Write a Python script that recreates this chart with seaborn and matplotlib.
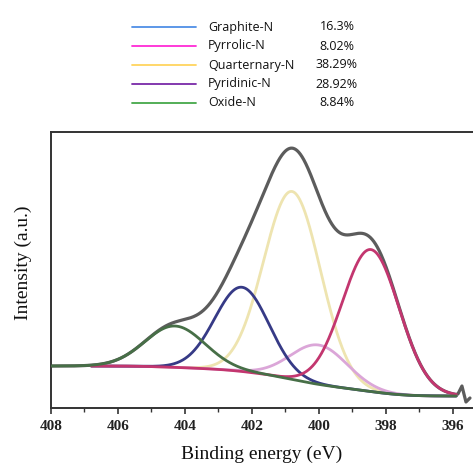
import numpy as np
import pandas as pd
import matplotlib
matplotlib.use("Agg")
import matplotlib.pyplot as plt
import seaborn as sns
from matplotlib.lines import Line2D

# N 1s deconvolution: fitted species, their area shares and peak shapes
species = ["Graphite-N", "Pyrrolic-N", "Quarternary-N", "Pyridinic-N", "Oxide-N"]
share_pct = [16.3, 8.02, 38.29, 28.92, 8.84]
share_labels = ["16.3%", "8.02%", "38.29%", "28.92%", "8.84%"]
center_ev = [402.3, 400.0, 400.8, 398.45, 404.3]
fwhm_ev = [1.9, 2.0, 2.0, 2.0, 2.1]
legend_colors = ["#4f8fe6", "#ff2bd6", "#ffd45e", "#7a2aa8", "#45a84a"]
curve_colors = ["#363a86", "#dba6d8", "#eee4b0", "#c3366f", "#476f47"]

# Shirley background end levels and area-to-intensity factor (a.u.)
bg_high = 42.0
bg_low = 12.0
area_scale = 9.82

# noisy raw points at the low-energy end of the scan
tail_ev = [395.85, 395.73, 395.61, 395.49]
tail_counts = [14.0, 22.0, 6.0, 10.0]

tick_values = [408, 406, 404, 402, 400, 398, 396]
tick_labels = ["408", "406", "404", "402", "400", "398", "396"]

sns.set_theme(style="ticks")
plt.rcParams["font.family"] = ["Liberation Serif", "DejaVu Serif"]

fig = plt.figure(figsize=(4.73, 4.70), dpi=100)
ax = fig.add_axes([51 / 473, 62 / 470, 1 - 51 / 473, (408 - 132) / 470])

energy = np.linspace(408.0, 395.9, 1200)
sigmas = np.array(fwhm_ev) / (2 * np.sqrt(2 * np.log(2)))
amps = np.array(share_pct) * area_scale / np.array(fwhm_ev)
comps = [a * np.exp(-0.5 * ((energy - c) / s) ** 2)
         for a, c, s in zip(amps, center_ev, sigmas)]
total = np.sum(comps, axis=0)

# Shirley-type background: rises with the peak area at lower binding energy
cum = np.cumsum(total[::-1])[::-1]
cum = cum - cum[-1]
background = bg_low + (bg_high - bg_low) * cum / cum[0]
envelope = background + total

env_e = np.concatenate([energy, tail_ev])
env_y = np.concatenate([envelope, tail_counts])

df_env = pd.DataFrame({"energy": env_e, "intensity": env_y})
sns.lineplot(data=df_env, x="energy", y="intensity", ax=ax, color="#5c5c5c",
             lw=2.3, estimator=None, sort=False, zorder=2)

start = energy <= 406.8
draw_order = [2, 1, 0, 3, 4]
for i in draw_order:
    mask = start if i != 4 else np.ones_like(start)
    df = pd.DataFrame({"energy": energy[mask],
                       "intensity": (background + comps[i])[mask]})
    sns.lineplot(data=df, x="energy", y="intensity", ax=ax,
                 color=curve_colors[i], lw=2.0, estimator=None, sort=False,
                 zorder=3)

ax.set_xlim(408, 395.4)
ax.set_ylim(0, 276)
ax.set_xticks(tick_values)
ax.set_xticklabels(tick_labels, fontweight="bold", fontsize=11,
                   color="#222222")
ax.set_xticks(np.arange(407, 395, -2), minor=True)
ax.set_yticks([])
ax.tick_params(axis="x", which="major", direction="out", length=4,
               width=1.2, color="#333333", pad=5)
ax.tick_params(axis="x", which="minor", direction="out", length=3,
               width=1.0, color="#333333")
for side in ["left", "top", "bottom"]:
    ax.spines[side].set_color("#333333")
    ax.spines[side].set_linewidth(1.4)
ax.spines["right"].set_visible(False)

ax.set_xlabel("Binding energy (eV)", fontsize=14, color="#111111", labelpad=9)
ax.set_ylabel("Intensity (a.u.)", fontsize=14, color="#111111")
ax.yaxis.set_label_coords(-0.045, 0.525)

# legend block above the axes with the area shares
row_y = [27, 46, 65, 84, 103]
legend_font = ["Open Sans", "DejaVu Sans"]
for name, pct, col, y in zip(species, share_labels, legend_colors, row_y):
    fy = 1 - y / 470
    fig.add_artist(Line2D([132 / 473, 196 / 473], [fy, fy], color=col,
                          lw=1.3, transform=fig.transFigure))
    fig.text(208 / 473, fy, name, fontsize=9, va="center", ha="left",
             family=legend_font, color="#111111")
    fig.text(337 / 473, fy, pct, fontsize=9, va="center", ha="center",
             family=legend_font, color="#111111")

fig.savefig("out.png", dpi=100, facecolor="white")
